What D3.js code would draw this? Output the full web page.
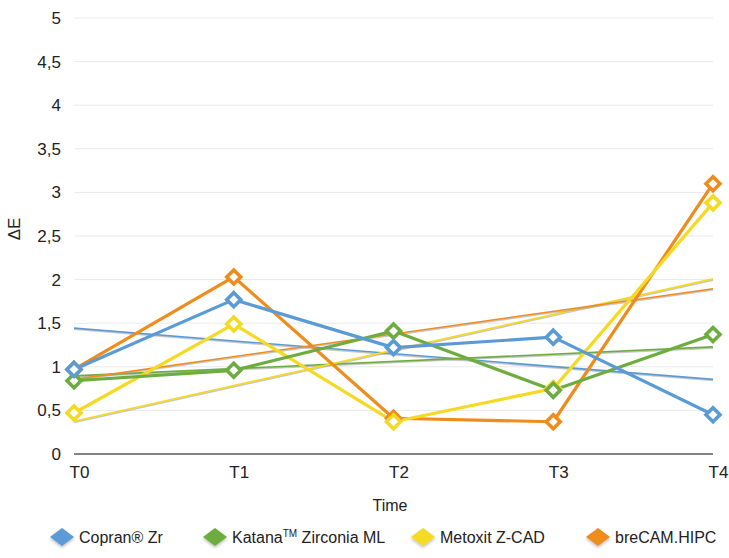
<!DOCTYPE html>
<html>
<head>
<meta charset="utf-8">
<script src="https://cdn.jsdelivr.net/npm/d3@7"></script>
<style>
  html, body { margin: 0; padding: 0; background: #ffffff; }
  svg { display: block; font-family: "Liberation Sans", Arial, Helvetica, sans-serif; }
</style>
</head>
<body>
<svg id="chart" width="729" height="558"></svg>
<script>
// ---- data ----
const categories = ["T0", "T1", "T2", "T3", "T4"];
const seriesNames = ["Copran® Zr", "Katana™ Zirconia ML", "Metoxit Z-CAD", "breCAM.HIPC"];
const copran  = [0.97, 1.77, 1.22, 1.34, 0.45];
const katana  = [0.84, 0.96, 1.41, 0.73, 1.37];
const metoxit = [0.47, 1.49, 0.37, 0.75, 2.88];
const brecam  = [0.97, 2.03, 0.41, 0.37, 3.10];
const yTicks = [0, 0.5, 1, 1.5, 2, 2.5, 3, 3.5, 4, 4.5, 5];
const colors = ["#5B9BD5", "#6DAD3F", "#F5D923", "#EE8C1E"];

const allSeries = [copran, katana, metoxit, brecam];

(function () {
const svg = d3.select("#chart");
const pLeft = 74, pRight = 713, pTop = 18, pBottom = 454;

const x = d3.scalePoint().domain(categories).range([pLeft, pRight]);
const y = d3.scaleLinear().domain([0, 5]).range([pBottom, pTop]);

const fmt = v => String(v).replace(".", ",");

// gridlines
svg.append("g").selectAll("line").data(yTicks.filter(t => t > 0)).join("line")
  .attr("x1", pLeft).attr("x2", pRight)
  .attr("y1", d => y(d)).attr("y2", d => y(d))
  .attr("stroke", "#e9e9e9").attr("stroke-width", 1);

// y axis labels
const yAxis = d3.axisLeft(y).tickValues(yTicks).tickFormat(fmt).tickSize(0).tickPadding(0);
const ga = svg.append("g").attr("transform", `translate(${61},0)`).call(yAxis);
ga.select(".domain").remove();
ga.selectAll("text").attr("font-size", 17).attr("fill", "#222").attr("font-family", "Liberation Sans, Arial, sans-serif");

// x axis
const xAxis = d3.axisBottom(x).tickSize(0).tickPadding(12);
const gx = svg.append("g").attr("transform", `translate(5,${pBottom})`).call(xAxis);
gx.select(".domain").remove();
gx.selectAll("text").attr("font-size", 17).attr("fill", "#222").attr("font-family", "Liberation Sans, Arial, sans-serif");
svg.append("line").attr("x1", pLeft).attr("x2", pRight).attr("y1", pBottom).attr("y2", pBottom)
  .attr("stroke", "#5a5a5a").attr("stroke-width", 1.5);

// axis titles
svg.append("text").attr("x", 390).attr("y", 511).attr("text-anchor", "middle")
  .attr("font-size", 16).attr("fill", "#222").text("Time");
svg.append("text").attr("transform", "translate(20,229) rotate(-90)").attr("text-anchor", "middle")
  .attr("font-size", 17).attr("fill", "#222").text("ΔE");

// linear trendlines (least squares on index)
function trend(vals) {
  const n = vals.length;
  const xs = vals.map((_, i) => i);
  const mx = d3.mean(xs), my = d3.mean(vals);
  let sxy = 0, sxx = 0;
  xs.forEach((xi, i) => { sxy += (xi - mx) * (vals[i] - my); sxx += (xi - mx) * (xi - mx); });
  const b = sxy / sxx, a = my - b * mx;
  return [a, a + b * (n - 1)];
}
const trendG = svg.append("g");
allSeries.forEach((vals, i) => {
  const [y0, y1] = trend(vals);
  trendG.append("line")
    .attr("x1", x(categories[0])).attr("x2", x(categories[categories.length - 1]))
    .attr("y1", y(y0) + 1.2).attr("y2", y(y1) + 1.2)
    .attr("stroke", "#9a9a9a").attr("stroke-opacity", 0.55).attr("stroke-width", 1.6);
  trendG.append("line")
    .attr("x1", x(categories[0])).attr("x2", x(categories[categories.length - 1]))
    .attr("y1", y(y0)).attr("y2", y(y1))
    .attr("stroke", colors[i]).attr("stroke-width", 1.6);
});

// series lines + markers (drawn last-to-first so first series is on top)
const line = d3.line().x((d, i) => x(categories[i])).y(d => y(d));
const order = [3, 2, 1, 0];
order.forEach(i => {
  svg.append("path").datum(allSeries[i]).attr("d", line)
    .attr("fill", "none").attr("stroke", colors[i]).attr("stroke-width", 3.2)
    .attr("stroke-linejoin", "round");
});
const diamond = (cx, cy, r) => `M${cx},${cy - r}L${cx + r},${cy}L${cx},${cy + r}L${cx - r},${cy}Z`;
order.forEach(i => {
  svg.append("g").selectAll("path").data(allSeries[i]).join("path")
    .attr("d", (d, j) => diamond(x(categories[j]), y(d), 7))
    .attr("fill", "#fff").attr("stroke", colors[i]).attr("stroke-width", 3.6);
});

// legend
const legendX = [62, 215, 423, 598];
const defs = svg.append("defs");
const f = defs.append("filter").attr("id", "sh").attr("x", "-50%").attr("y", "-50%").attr("width", "200%").attr("height", "200%");
f.append("feDropShadow").attr("dx", 0).attr("dy", 1.5).attr("stdDeviation", 1.5).attr("flood-color", "#000").attr("flood-opacity", 0.3);
const lg = svg.append("g");
seriesNames.forEach((name, i) => {
  const cx = legendX[i], cy = 537;
  lg.append("path").attr("d", `M${cx},${cy - 9}L${cx + 12},${cy}L${cx},${cy + 9}L${cx - 12},${cy}Z`)
    .attr("fill", colors[i]).attr("filter", "url(#sh)");
  const t = lg.append("text").attr("x", cx + 17).attr("y", cy + 6).attr("font-size", 16).attr("fill", "#222");
  if (name.includes("™")) {
    const parts = name.split("™");
    t.append("tspan").text(parts[0]);
    t.append("tspan").attr("font-size", 10).attr("dy", -6).text("TM");
    t.append("tspan").attr("dy", 6).text(parts[1]);
  } else {
    t.text(name);
  }
});
})();
</script>
</body>
</html>
